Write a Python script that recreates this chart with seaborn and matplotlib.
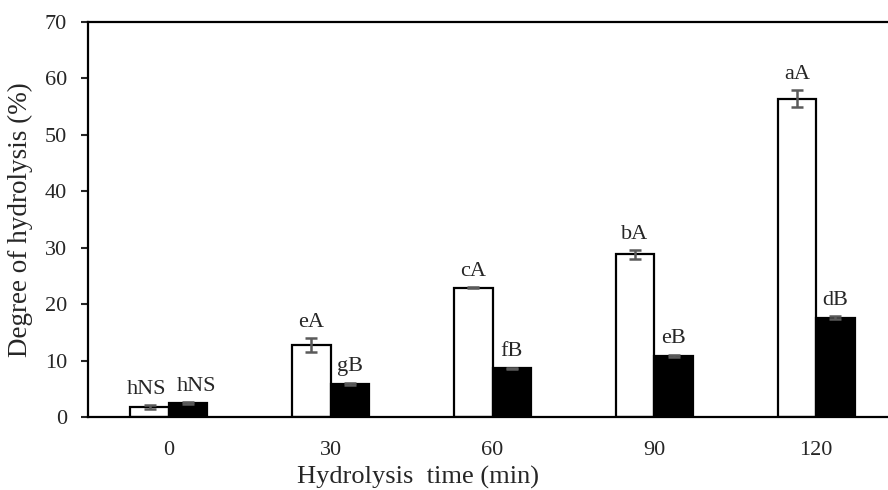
import numpy as np
import pandas as pd
import matplotlib
matplotlib.use("Agg")
import matplotlib.pyplot as plt
import seaborn as sns

# Hydrolysis time points (min)
times = ["0", "30", "60", "90", "120"]
# Degree of hydrolysis (%) for the two samples
white_vals = [1.8, 12.7, 22.9, 28.8, 56.4]
black_vals = [2.5, 5.9, 8.6, 10.8, 17.6]
white_err = [0.35, 1.25, 0.1, 0.75, 1.55]
black_err = [0.15, 0.2, 0.15, 0.25, 0.3]
white_labels = ["hNS", "eA", "cA", "bA", "aA"]
black_labels = ["hNS", "gB", "fB", "eB", "dB"]

df = pd.DataFrame({
    "time": times * 2,
    "dh": white_vals + black_vals,
    "sample": ["S1"] * len(times) + ["S2"] * len(times),
})

sns.set_style("white")
plt.rcParams["font.family"] = ["Liberation Serif", "DejaVu Serif"]

fig = plt.figure(figsize=(8.88, 4.90), dpi=100)
ax = fig.add_axes([88 / 888, 73 / 490, 809 / 888, 395 / 490])

sns.barplot(data=df, x="time", y="dh", hue="sample", order=times,
            palette=["white", "black"], edgecolor="black", linewidth=1.6,
            width=0.476, gap=0, errorbar=None, legend=False, ax=ax)

errs = white_err + black_err
vals = white_vals + black_vals
labels = white_labels + black_labels
# nudge the two crowded labels of the first group apart (in x-data units)
nudges = {0: -0.02, 5: 0.05}
for i, (patch, v, e, lab) in enumerate(zip(ax.patches, vals, errs, labels)):
    cx = patch.get_x() + patch.get_width() / 2
    ax.errorbar(cx, v, yerr=e, fmt="none", ecolor="#5a5a5a",
                elinewidth=1.8, capsize=4, capthick=1.8, zorder=5)
    ax.text(cx + nudges.get(i, 0), v + e + 1.1, lab, ha="center",
            va="bottom", fontsize=16)

ax.set_xlim(-0.5, 4.5)
ax.set_ylim(0, 70)
ax.set_yticks(range(0, 71, 10))
ax.tick_params(axis="y", direction="out", length=5, width=1.5, pad=10,
               labelsize=16, left=True)
ax.tick_params(axis="x", length=0, pad=17, labelsize=16)

for side in ["left", "bottom", "top", "right"]:
    ax.spines[side].set_linewidth(1.6)
    ax.spines[side].set_color("black")

ax.set_xlabel("Hydrolysis  time (min)", fontsize=19)
ax.set_ylabel("Degree of hydrolysis (%)", fontsize=19.5)
ax.xaxis.set_label_coords(0.408, -0.125)
ax.yaxis.set_label_coords(-0.068, 0.5)

fig.savefig("out.png", dpi=100)
